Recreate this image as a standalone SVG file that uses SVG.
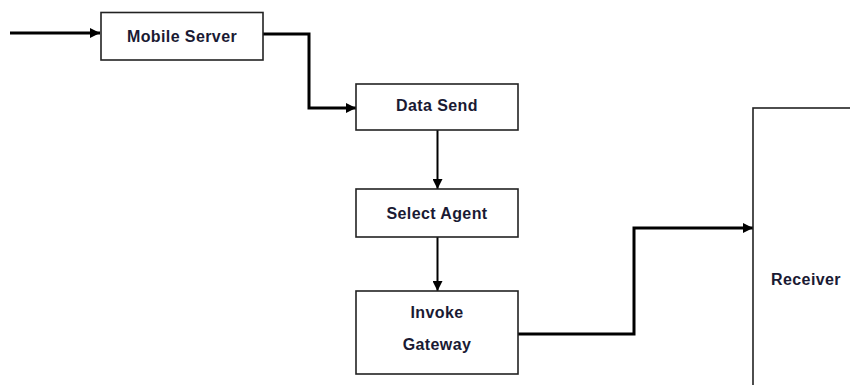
<svg xmlns="http://www.w3.org/2000/svg" width="850" height="385" viewBox="0 0 850 385">
<style>
.box{fill:#fff;stroke:#222;stroke-width:1.6}
.lbl{font-family:"Liberation Sans",Arial,sans-serif;font-size:16px;font-weight:bold;letter-spacing:0.4px;fill:#1a1a33;text-anchor:middle}
.con{fill:none;stroke:#000;stroke-width:3}
.thin{fill:none;stroke:#000;stroke-width:2}
</style>
<defs>
<marker id="ah" viewBox="0 0 10 10" refX="10" refY="5" markerWidth="10" markerHeight="10" markerUnits="userSpaceOnUse" orient="auto">
<path d="M0,0 L10,5 L0,10 Z" fill="#000"/>
</marker>
</defs>
<rect width="850" height="385" fill="#fff"/>
<g id="connectors">
<path class="con" d="M10,33 H100" marker-end="url(#ah)"/>
<path class="con" d="M263,34 H309 V108 H356" marker-end="url(#ah)"/>
<path class="thin" d="M437.5,130 V189" marker-end="url(#ah)"/>
<path class="thin" d="M437.5,237 V291" marker-end="url(#ah)"/>
<path class="con" d="M518,334 H634 V228 H753" marker-end="url(#ah)"/>
</g>
<g id="mobile-server">
<rect class="box" x="101" y="12.5" width="162" height="47.5"/>
<text class="lbl" x="182" y="41.5">Mobile Server</text>
</g>
<g id="data-send">
<rect class="box" x="356" y="84" width="162" height="46"/>
<text class="lbl" x="437" y="111">Data Send</text>
</g>
<g id="select-agent">
<rect class="box" x="356" y="189" width="162" height="48"/>
<text class="lbl" x="437" y="219">Select Agent</text>
</g>
<g id="invoke-gateway">
<rect class="box" x="356" y="291" width="162" height="83"/>
<text class="lbl" x="437" y="318">Invoke</text>
<text class="lbl" x="437" y="350">Gateway</text>
</g>
<g id="receiver">
<rect class="box" x="753" y="108" width="110" height="290"/>
<text class="lbl" x="806" y="285">Receiver</text>
</g>
</svg>
